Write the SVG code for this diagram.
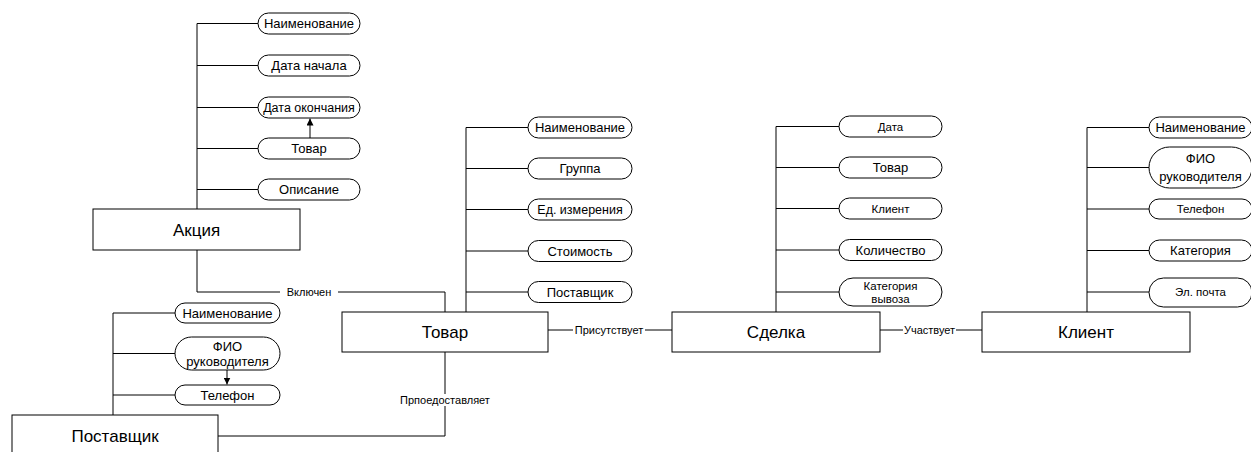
<svg xmlns="http://www.w3.org/2000/svg" width="1251" height="452" viewBox="0 0 1251 452">
<style>
.ent{fill:#fff;stroke:#000;stroke-width:1}
.att{fill:#fff;stroke:#000;stroke-width:1}
.ln{fill:none;stroke:#000;stroke-width:1}
.gap{fill:#fff}
text{font-family:"Liberation Sans",Arial,sans-serif;fill:#000;text-anchor:middle;dominant-baseline:central}
.et{font-size:17px}
.at{font-size:13px}
.as{font-size:11.5px}
.lb{font-size:11px}
</style>
<defs>
<marker id="ah" viewBox="0 0 10 10" refX="10" refY="5" markerWidth="7" markerHeight="7" orient="auto" markerUnits="userSpaceOnUse">
<path d="M0,0 L10,5 L0,10 z" fill="#000"/>
</marker>
</defs>
<rect width="1251" height="452" fill="#fff"/>

<g id="connectors">
<path class="ln" d="M197,23.5 V209 M197,23.5 H258 M197,65.5 H258 M197,107.5 H258 M197,148.5 H258 M197,189.5 H258"/>
<path class="ln" d="M310,138 V118.5" marker-end="url(#ah)"/>
<path class="ln" d="M113,313 V415 M113,313 H175 M113,353.5 H175 M113,395 H175"/>
<path class="ln" d="M227,370 V384.5" marker-end="url(#ah)"/>
<path class="ln" d="M466,127.5 V312 M466,127.5 H528 M466,168.5 H528 M466,209.5 H528 M466,251 H528 M466,292 H528"/>
<path class="ln" d="M776,126.5 V312 M776,126.5 H839 M776,167.5 H839 M776,208.5 H839 M776,250 H839 M776,292 H839"/>
<path class="ln" d="M1087,127.5 V312 M1087,127.5 H1149 M1087,167.5 H1149 M1087,209 H1149 M1087,250.5 H1149 M1087,292 H1149"/>
<path class="ln" d="M197,250 V292 H445 V312"/>
<rect class="gap" x="280" y="286" width="58" height="12"/>
<text class="lb" x="309" y="292">Включен</text>
<path class="ln" d="M218,436 H445 V352"/>
<rect class="gap" x="397" y="394" width="96" height="12"/>
<text class="lb" x="445" y="400">Прпоедоставляет</text>
<path class="ln" d="M548,330 H672"/>
<rect class="gap" x="573" y="324" width="72" height="12"/>
<text class="lb" x="609" y="330">Присутствует</text>
<path class="ln" d="M880,330 H982"/>
<rect class="gap" x="903" y="324" width="53" height="12"/>
<text class="lb" x="929.5" y="330">Участвует</text>
</g>

<g id="akciya">
<rect class="ent" x="93" y="209" width="207" height="41"/>
<text class="et" x="196.5" y="230">Акция</text>
</g>
<g id="akciya-attrs">
<rect class="att" x="258" y="13" width="102" height="21" rx="10.5"/>
<text class="at" x="309" y="23.5">Наименование</text>
<rect class="att" x="258" y="55" width="102" height="21" rx="10.5"/>
<text class="at" x="309" y="65.5">Дата начала</text>
<rect class="att" x="258" y="97" width="102" height="21" rx="10.5"/>
<text class="at" x="309" y="107.5" style="font-size:12.5px">Дата окончания</text>
<rect class="att" x="258" y="138" width="102" height="21" rx="10.5"/>
<text class="at" x="309" y="148.5">Товар</text>
<rect class="att" x="258" y="179" width="102" height="21" rx="10.5"/>
<text class="at" x="309" y="189.5">Описание</text>
</g>

<g id="postavshik">
<rect class="ent" x="12" y="415" width="206" height="42"/>
<text class="et" x="115" y="436">Поставщик</text>
</g>
<g id="postavshik-attrs">
<rect class="att" x="175" y="303" width="105" height="20" rx="10"/>
<text class="at" x="227.5" y="313">Наименование</text>
<rect class="att" x="175" y="337" width="105" height="33" rx="16.5"/>
<text class="at" x="227.5" y="346">ФИО</text>
<text class="at" x="227.5" y="361">руководителя</text>
<rect class="att" x="175" y="385" width="105" height="20" rx="10"/>
<text class="at" x="227.5" y="395">Телефон</text>
</g>

<g id="tovar">
<rect class="ent" x="342" y="312" width="206" height="40"/>
<text class="et" x="445" y="332">Товар</text>
</g>
<g id="tovar-attrs">
<rect class="att" x="528" y="117" width="104" height="21" rx="10.5"/>
<text class="at" x="580" y="127.5">Наименование</text>
<rect class="att" x="528" y="158" width="104" height="21" rx="10.5"/>
<text class="at" x="580" y="168.5">Группа</text>
<rect class="att" x="528" y="199" width="104" height="21" rx="10.5"/>
<text class="at" x="580" y="209.5" style="font-size:12.5px">Ед. измерения</text>
<rect class="att" x="528" y="240.5" width="104" height="21" rx="10.5"/>
<text class="at" x="580" y="251">Стоимость</text>
<rect class="att" x="528" y="281.5" width="104" height="21" rx="10.5"/>
<text class="at" x="580" y="292">Поставщик</text>
</g>

<g id="sdelka">
<rect class="ent" x="672" y="312" width="208" height="40"/>
<text class="et" x="776" y="332">Сделка</text>
</g>
<g id="sdelka-attrs">
<rect class="att" x="839" y="116" width="103" height="21" rx="10.5"/>
<text class="as" x="890.5" y="126.5">Дата</text>
<rect class="att" x="839" y="157" width="103" height="21" rx="10.5"/>
<text class="at" x="890.5" y="167.5">Товар</text>
<rect class="att" x="839" y="198" width="103" height="21" rx="10.5"/>
<text class="as" x="890.5" y="208.5">Клиент</text>
<rect class="att" x="839" y="239.5" width="103" height="21" rx="10.5"/>
<text class="at" x="890.5" y="250">Количество</text>
<rect class="att" x="839" y="278" width="103" height="28" rx="14"/>
<text class="as" x="890.5" y="285.5">Категория</text>
<text class="as" x="890.5" y="298.5">вывоза</text>
</g>

<g id="klient">
<rect class="ent" x="982" y="312" width="208" height="40"/>
<text class="et" x="1086" y="332">Клиент</text>
</g>
<g id="klient-attrs">
<rect class="att" x="1149" y="117" width="103" height="21" rx="10.5"/>
<text class="at" x="1200.5" y="127.5">Наименование</text>
<rect class="att" x="1149" y="147" width="103" height="41" rx="20.5"/>
<text class="at" x="1200.5" y="158">ФИО</text>
<text class="at" x="1200.5" y="176">руководителя</text>
<rect class="att" x="1149" y="199" width="103" height="20" rx="10"/>
<text class="as" x="1200.5" y="209">Телефон</text>
<rect class="att" x="1149" y="240" width="103" height="21" rx="10.5"/>
<text class="at" x="1200.5" y="250.5">Категория</text>
<rect class="att" x="1149" y="278" width="103" height="29" rx="14.5"/>
<text class="as" x="1200.5" y="292">Эл. почта</text>
</g>
</svg>
